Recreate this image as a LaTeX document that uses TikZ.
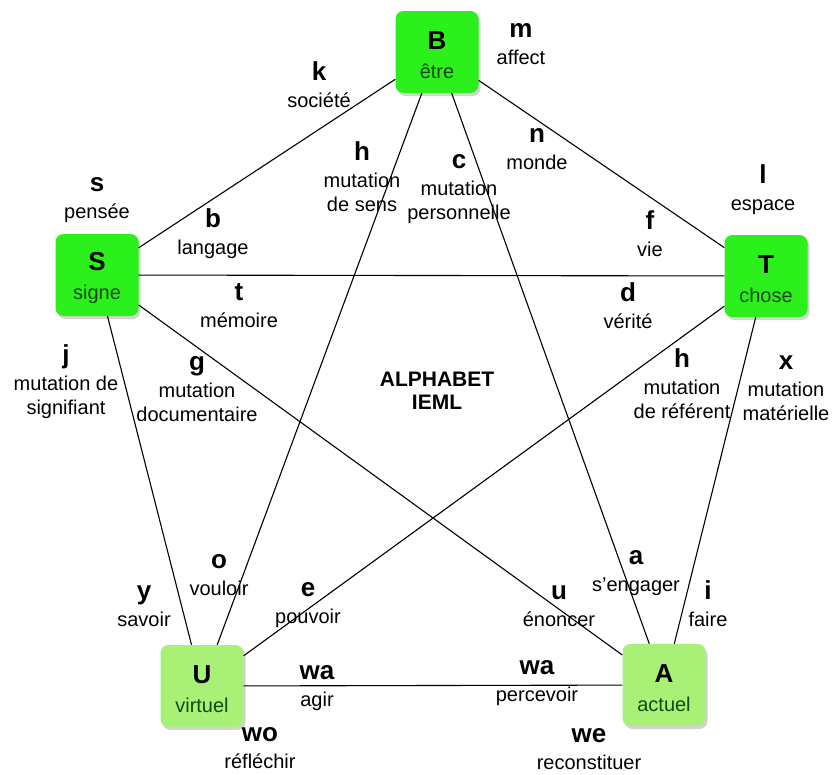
\documentclass[tikz,border=0pt]{standalone}
\usepackage{fontspec}
\setmainfont{Liberation Sans}
\usetikzlibrary{shadows}

\definecolor{brightgreen}{RGB}{44,240,28}
\definecolor{palegreen}{RGB}{168,240,118}
\definecolor{leafgreen}{RGB}{18,72,18}
\newcommand{\lettr}[1]{{\fontsize{26}{26}\selectfont\bfseries\color{black}#1}}
\newcommand{\boxlettr}[1]{\rule{0pt}{25pt}\lettr{#1}}

\begin{document}
\begin{tikzpicture}[x=1pt,y=-1pt,
  vertex/.style={rectangle, rounded corners=8pt, fill=#1, minimum width=83pt, minimum height=82pt, inner sep=0pt, align=center, text=leafgreen, font=\fontsize{20}{24}\selectfont, drop shadow={opacity=0.35, shadow xshift=2pt, shadow yshift=-3pt}},
  tag/.style={align=center, inner sep=1pt, font=\fontsize{20}{24}\selectfont},
  link/.style={draw=black, line width=1.1pt}]

  \useasboundingbox (0,0) rectangle (832,774);

  % les cinq primitives
  \node[vertex=brightgreen] (B) at (437,52) {\boxlettr{B}\\[5pt]être};
  \node[vertex=brightgreen] (S) at (97,275) {\boxlettr{S}\\[5pt]signe};
  \node[vertex=brightgreen] (T) at (766,276) {\boxlettr{T}\\[5pt]chose};
  \node[vertex=palegreen] (U) at (202,686) {\boxlettr{U}\\[5pt]virtuel};
  \node[vertex=palegreen] (A) at (664,685) {\boxlettr{A}\\[5pt]actuel};

  % liens
  \foreach \from/\to in {B/S, B/T, B/U, B/A, S/T, S/U, S/A, T/U, T/A, U/A}
    \draw[link] (\from) -- (\to);

  % titre
  \node[align=center, font=\fontsize{21}{23}\selectfont\bfseries] (title) at (437,391) {ALPHABET\\IEML};

  % lettres et sens
  \node[tag] (lm) at (521,44) {\lettr{m}\\[3pt]affect};
  \node[tag] (lk) at (319,85) {\lettr{k}\\[3pt]société};
  \node[tag] (ln) at (537,149) {\lettr{n}\\[3pt]monde};
  \node[tag] (lhsens) at (362,177) {\lettr{h}\\[3pt]mutation\\de sens};
  \node[tag] (lc) at (459,189) {\lettr{c}\\[3pt]mutation\\personnelle};
  \node[tag] (ls) at (97,200) {\lettr{s}\\[3pt]pensée};
  \node[tag] (lb) at (213,234) {\lettr{b}\\[3pt]langage};
  \node[tag] (lt) at (239,306) {\lettr{t}\\[3pt]mémoire};
  \node[tag] (ll) at (763,190) {\lettr{l}\\[3pt]espace};
  \node[tag] (lf) at (650,234) {\lettr{f}\\[3pt]vie};
  \node[tag] (ld) at (628,306) {\lettr{d}\\[3pt]vérité};
  \node[tag] (lj) at (66,382) {\lettr{j}\\[3pt]mutation de\\signifiant};
  \node[tag] (lg) at (197,389) {\lettr{g}\\[3pt]mutation\\documentaire};
  \node[tag] (lhref) at (682,384) {\lettr{h}\\[3pt]mutation\\de référent};
  \node[tag] (lx) at (786,388) {\lettr{x}\\[3pt]mutation\\matérielle};
  \node[tag] (lo) at (219,575) {\lettr{o}\\[3pt]vouloir};
  \node[tag] (ly) at (144,606) {\lettr{y}\\[3pt]savoir};
  \node[tag] (le) at (308,605) {\lettr{e}\\[3pt]pouvoir};
  \node[tag] (la) at (636,573) {\lettr{a}\\[3pt]s'engager};
  \node[tag] (lu) at (559,606) {\lettr{u}\\[3pt]énoncer};
  \node[tag] (li) at (708,604) {\lettr{i}\\[3pt]faire};
  \node[tag] (lwaU) at (317,688) {\lettr{wa}\\[3pt]agir};
  \node[tag] (lwaA) at (537,683) {\lettr{wa}\\[3pt]percevoir};
  \node[tag] (lwo) at (260,748) {\lettr{wo}\\[3pt]réfléchir};
  \node[tag] (lwe) at (589,749) {\lettr{we}\\[3pt]reconstituer};
\end{tikzpicture}
\end{document}
